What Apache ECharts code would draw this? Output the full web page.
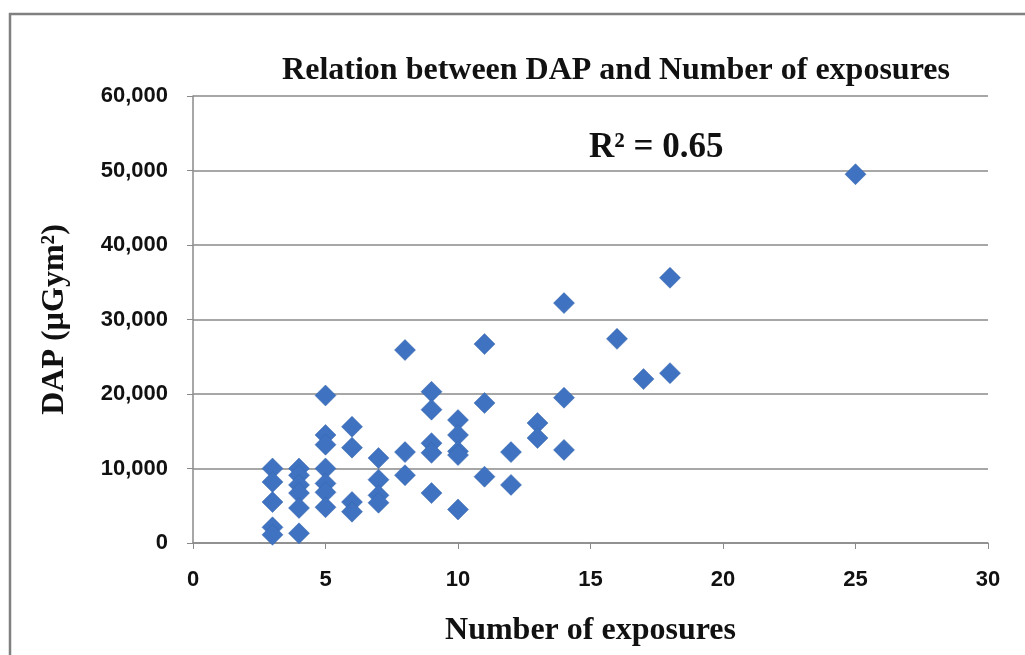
<!DOCTYPE html>
<html>
<head>
<meta charset="utf-8">
<title>Relation between DAP and Number of exposures</title>
<script src="https://cdn.jsdelivr.net/npm/echarts@6/dist/echarts.min.js"></script>
<style>
  html, body { margin: 0; padding: 0; background: #fff; }
  #chart { width: 1025px; height: 655px; }
</style>
</head>
<body>
<div id="chart"></div>
<script>
// number of exposures (x) and DAP in µGym² (y)
const exposures = [
  3, 3, 3, 3, 3,
  4, 4, 4, 4, 4, 4,
  5, 5, 5, 5, 5, 5, 5,
  6, 6, 6, 6,
  7, 7, 7, 7,
  8, 8, 8,
  9, 9, 9, 9, 9,
  10, 10, 10, 10, 10,
  11, 11, 11,
  12, 12,
  13, 13,
  14, 14, 14,
  16,
  17,
  18, 18,
  25
]
const dap = [
  10000, 8200, 5500, 2100, 1100,
  10000, 9100, 7800, 6700, 4700, 1300,
  19800, 14500, 13200, 10000, 8000, 6800, 4800,
  15600, 12800, 5500, 4200,
  11400, 8500, 6400, 5400,
  25900, 12200, 9100,
  20300, 17900, 13400, 12100, 6700,
  16500, 14500, 12300, 11800, 4500,
  26700, 18800, 8900,
  12200, 7800,
  16100, 14100,
  32200, 19500, 12500,
  27400,
  22000,
  35600, 22800,
  49500
]
const rSquared = 'R² = 0.65'

const chart = echarts.init(document.getElementById('chart'))

const points = exposures.map((x, i) => [x, dap[i]])

const tickFont = {
  color: '#111',
  fontFamily: 'Liberation Sans',
  fontWeight: 'bold',
  fontSize: 22
}

const option = {
  backgroundColor: '#fff',
  animation: false,
  title: {
    text: 'Relation between DAP and Number of exposures',
    left: 611,
    top: 50,
    textAlign: 'center',
    textStyle: {
      fontFamily: 'Liberation Serif',
      fontWeight: 'bold',
      fontSize: 32,
      color: '#111'
    }
  },
  grid: {
    left: 193,
    right: 37,
    top: 96,
    bottom: 112,
    outerBoundsMode: 'none',
    containLabel: false
  },
  xAxis: {
    type: 'value',
    min: 0,
    max: 30,
    interval: 5,
    name: 'Number of exposures',
    nameLocation: 'middle',
    nameGap: 72,
    nameTextStyle: {
      fontFamily: 'Liberation Serif',
      fontWeight: 'bold',
      fontSize: 32,
      color: '#111'
    },
    axisLine: { lineStyle: { color: '#8a8a8a', width: 1.5 } },
    axisTick: { show: true, inside: false, length: 6, lineStyle: { color: '#8a8a8a' } },
    axisLabel: Object.assign({ margin: 26 }, tickFont),
    splitLine: { show: false }
  },
  yAxis: {
    type: 'value',
    min: 0,
    max: 60000,
    interval: 10000,
    name: 'DAP (µGym²)',
    nameLocation: 'middle',
    nameGap: 122,
    nameRotate: 90,
    nameTextStyle: {
      fontFamily: 'Liberation Serif',
      fontWeight: 'bold',
      fontSize: 32,
      color: '#111'
    },
    axisLine: { show: true, lineStyle: { color: '#8a8a8a', width: 1.5 } },
    axisTick: { show: true, inside: false, length: 6, lineStyle: { color: '#8a8a8a' } },
    axisLabel: Object.assign({
      margin: 25,
      formatter: v => v.toLocaleString('en-US')
    }, tickFont),
    splitLine: { show: true, lineStyle: { color: '#8a8a8a', width: 1.5 } }
  },
  series: [
    {
      type: 'scatter',
      data: points,
      symbol: 'diamond',
      symbolSize: 21,
      itemStyle: {
        color: '#3f72c0',
        opacity: 1,
        borderColor: '#3765ab',
        borderWidth: 0.5
      }
    }
  ],
  graphic: [
    {
      // outer frame of the chart area
      type: 'rect',
      shape: { x: 10, y: 14, width: 1040, height: 680 },
      style: { fill: 'none', stroke: '#808080', lineWidth: 2.5 },
      silent: true
    },
    {
      type: 'text',
      left: 589,
      top: 130,
      style: {
        text: rSquared,
        fontFamily: 'Liberation Serif',
        fontWeight: 'bold',
        fontSize: 35,
        fill: '#111'
      }
    }
  ]
}

chart.setOption(option)
</script>
</body>
</html>
